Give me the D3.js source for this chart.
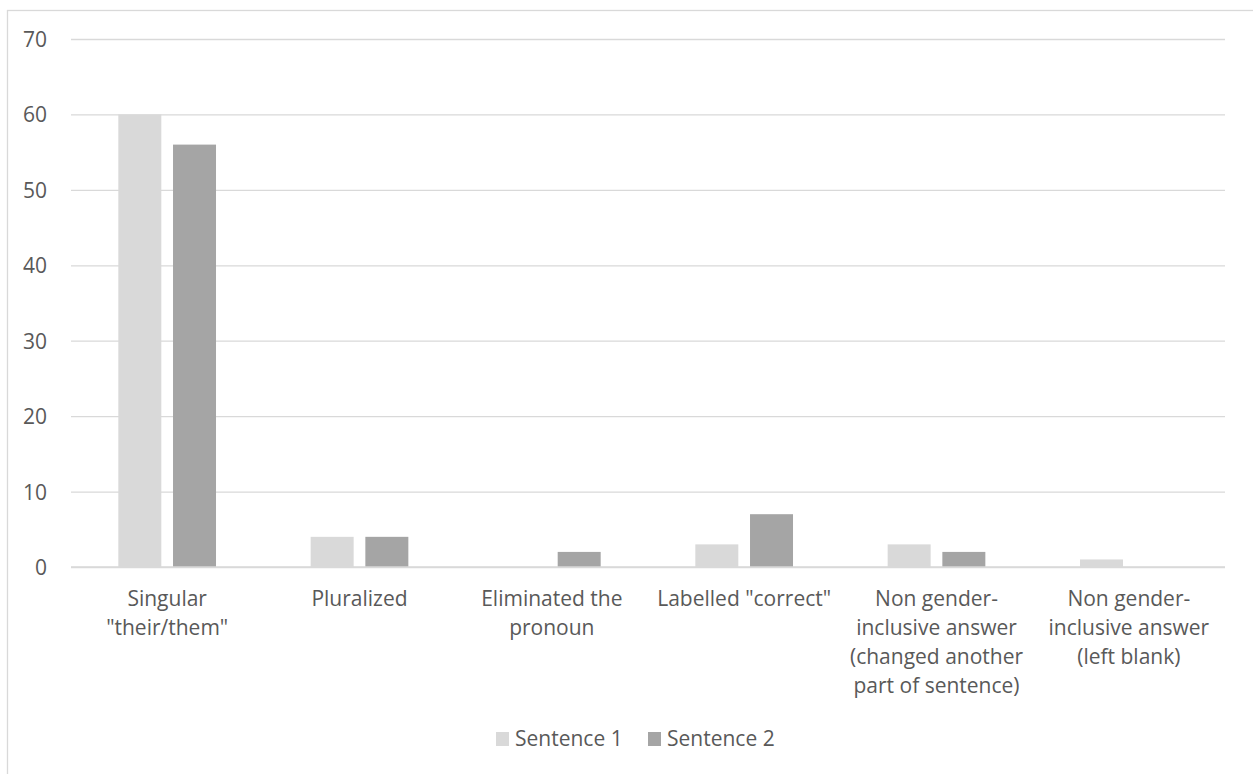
<!DOCTYPE html>
<html><head><meta charset="utf-8">
<script src="https://cdn.jsdelivr.net/npm/d3@7"></script>
<style>
html,body{margin:0;padding:0;background:#fff;}
svg{display:block;}
svg text{font-family:"Open Sans","Noto Sans",sans-serif;}
</style></head>
<body><svg id="chart" width="1253" height="774"></svg>
<script>
const categories = ["Singular \"their/them\"", "Pluralized", "Eliminated the pronoun", "Labelled \"correct\"", "Non gender-inclusive answer (changed another part of sentence)", "Non gender-inclusive answer (left blank)"];
const categoryLines = [["Singular", "\"their/them\""], ["Pluralized"], ["Eliminated the", "pronoun"], ["Labelled \"correct\""], ["Non gender-", "inclusive answer", "(changed another", "part of sentence)"], ["Non gender-", "inclusive answer", "(left blank)"]];
const seriesNames = ["Sentence 1", "Sentence 2"];
const sentence1 = [60, 4, 0, 3, 3, 1];
const sentence2 = [56, 4, 2, 7, 2, 0];
const yTicks = [0, 10, 20, 30, 40, 50, 60, 70];
const colors = ["#d9d9d9", "#a5a5a5"];

const FS = "21px";
const svg = d3.select("#chart");
const L = 71, R = 1225, T = 39, B = 567;

svg.append("rect").attr("x", 7.5).attr("y", 10.5).attr("width", 1260).attr("height", 780)
  .attr("fill", "#fff").attr("stroke", "#d9d9d9").attr("stroke-width", 1.3);

const y = d3.scaleLinear().domain([0, 70]).range([B, T]);
const x0 = d3.scaleBand().domain(categories).range([L, R]).padding(0);
const x1 = d3.scaleBand().domain(seriesNames).range([0, x0.bandwidth()]).paddingInner(0.214).paddingOuter(0.865);

// gridlines
const yAxis = d3.axisLeft(y).tickValues(yTicks).tickSize(-(R - L)).tickPadding(24).tickFormat(d3.format("d"));
const ga = svg.append("g").attr("transform", `translate(${L},0)`).call(yAxis);
ga.attr("font-family", null).attr("font-size", null);
ga.select(".domain").remove();
ga.selectAll(".tick line").attr("stroke", "#d9d9d9").attr("stroke-width", 1.3);
ga.selectAll(".tick text").attr("fill", "#595959").style("font-size", FS).attr("dy", "0.36em");

const data = categories.map((c, i) => ({ c, vals: [sentence1[i], sentence2[i]] }));
const groups = svg.append("g").selectAll("g").data(data).join("g")
  .attr("transform", d => `translate(${x0(d.c)},0)`);
groups.selectAll("rect").data(d => d.vals.map((v, j) => ({ s: seriesNames[j], v, j })))
  .join("rect")
  .attr("x", d => x1(d.s)).attr("width", x1.bandwidth())
  .attr("y", d => y(d.v)).attr("height", d => y(0) - y(d.v))
  .attr("fill", d => colors[d.j]);

// baseline on top
svg.append("line").attr("x1", L).attr("x2", R).attr("y1", y(0)).attr("y2", y(0))
  .attr("stroke", "#d9d9d9").attr("stroke-width", 1.3);

// x category labels
const xa = d3.axisBottom(x0).tickSize(0).tickFormat("");
const gx = svg.append("g").attr("transform", `translate(0,${B})`).call(xa);
gx.attr("font-family", null).attr("font-size", null);
gx.select(".domain").remove();
gx.selectAll(".tick").each(function(d, i) {
  const t = d3.select(this).append("text").attr("fill", "#595959").attr("text-anchor", "middle")
    .style("font-size", FS);
  categoryLines[i].forEach((ln, k) => {
    t.append("tspan").attr("x", 0).attr("y", 39 + k * 29).text(ln);
  });
});

// legend
const lg = svg.append("g");
const legX = [496, 648];
seriesNames.forEach((s, j) => {
  lg.append("rect").attr("x", legX[j]).attr("y", 732).attr("width", 13).attr("height", 14).attr("fill", colors[j]);
  lg.append("text").attr("x", legX[j] + 19).attr("y", 746).attr("fill", "#595959")
    .style("font-size", FS).text(s);
});
</script></body></html>
